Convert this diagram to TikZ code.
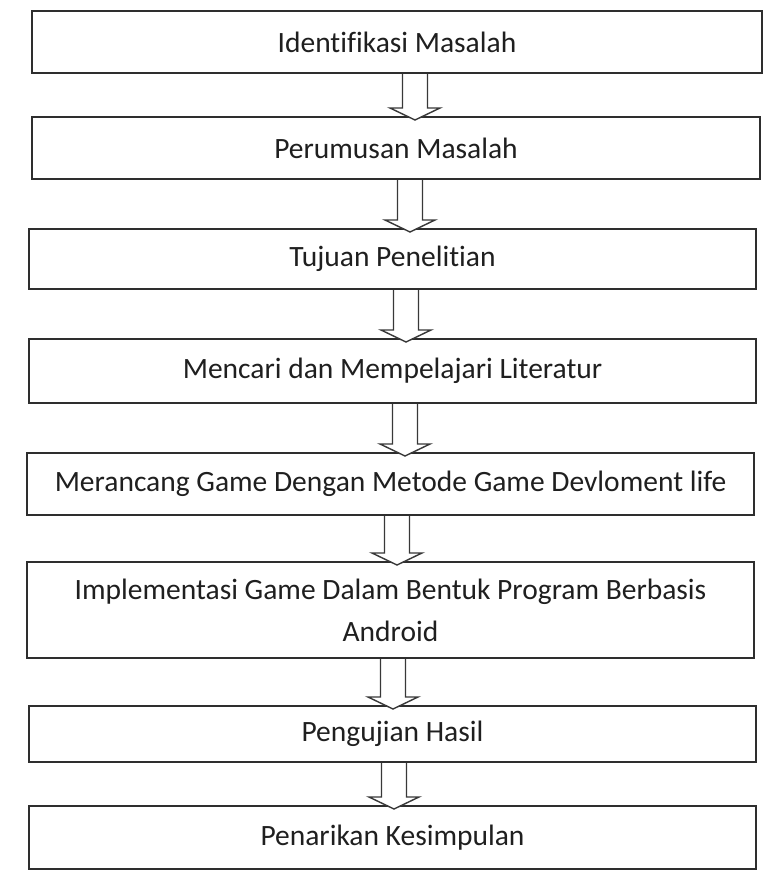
\documentclass[tikz,border=0pt]{standalone}
\usepackage{fontspec}
\setmainfont[Ligatures=NoCommon]{Carlito}
\usetikzlibrary{calc}

\tikzset{
  stepbox/.style={draw=black!82, line width=2pt, fill=white, rectangle,
    inner sep=0pt, align=center, text=black!88,
    font=\fontsize{29.5pt}{42pt}\selectfont},
  blockarrow/.style={draw=black!78, line width=1.4pt, fill=white, line join=miter},
}

% hollow block arrow from the bottom of #1 to the top of #2, centred at x = #3
\newcommand\hollowdown[3]{%
  \draw[blockarrow] let \p1=(#1.south), \p2=(#2.north) in
    (#3pt-12.5pt,\y1) -- (#3pt-12.5pt,\y2+8pt) -- (#3pt-25pt,\y2+8pt)
    -- (#3pt,\y2-4pt) -- (#3pt+25pt,\y2+8pt) -- (#3pt+12.5pt,\y2+8pt)
    -- (#3pt+12.5pt,\y1);%
}

\begin{document}
\begin{tikzpicture}[x=1pt,y=-1pt]
  \useasboundingbox[fill=white] (0,0) rectangle (777,886);

  \node[stepbox, minimum width=730pt, minimum height=62pt] (b1) at (397,42)
    {Identifikasi Masalah};
  \node[stepbox, minimum width=728pt, minimum height=62pt] (b2) at (396,148)
    {Perumusan Masalah};
  \node[stepbox, minimum width=727pt, minimum height=60pt] (b3) at (392.5,259)
    {Tujuan Penelitian};
  \node[stepbox, minimum width=727pt, minimum height=64pt] (b4) at (392.5,371)
    {Mencari dan Mempelajari Literatur};
  \node[stepbox, minimum width=727pt, minimum height=62pt] (b5) at (390.5,484)
    {Merancang Game Dengan Metode Game Devloment life};
  \node[stepbox, minimum width=727pt, minimum height=96pt] (b6) at (390.5,610)
    {Implementasi Game Dalam Bentuk Program Berbasis\\Android};
  \node[stepbox, minimum width=727pt, minimum height=56pt] (b7) at (392.5,734)
    {Pengujian Hasil};
  \node[stepbox, minimum width=727pt, minimum height=63pt] (b8) at (392.5,837.5)
    {Penarikan Kesimpulan};

  \hollowdown{b1}{b2}{415}
  \hollowdown{b2}{b3}{410}
  \hollowdown{b3}{b4}{406}
  \hollowdown{b4}{b5}{405}
  \hollowdown{b5}{b6}{397}
  \hollowdown{b6}{b7}{393}
  \hollowdown{b7}{b8}{394}
\end{tikzpicture}
\end{document}
